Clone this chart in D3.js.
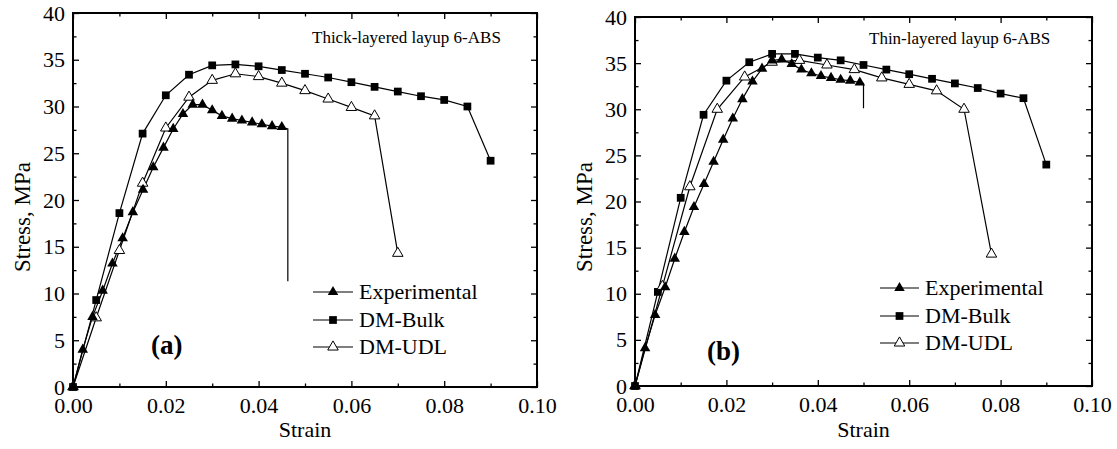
<!DOCTYPE html>
<html>
<head>
<meta charset="utf-8">
<script src="https://cdn.jsdelivr.net/npm/d3@7"></script>
<style>
  body { margin: 0; background: #fff; }
  svg text { font-family: "Liberation Serif", "Times New Roman", Times, serif; fill: #000; }
</style>
</head>
<body>
<svg id="chart" width="1117" height="449"></svg>
<script>
// ---- Thick-layered layup 6-ABS ----
const thickExpStrain = [0, 0.0021, 0.0042, 0.0064, 0.0085, 0.0107, 0.0129, 0.0151, 0.0173, 0.0195, 0.0216, 0.0237, 0.0258, 0.0279, 0.0300, 0.0321, 0.0343, 0.0364, 0.0386, 0.0407, 0.0429, 0.0450];
const thickExpStress = [0, 4.0, 7.5, 10.3, 13.2, 15.9, 18.7, 21.1, 23.5, 25.6, 27.6, 29.2, 30.2, 30.2, 29.6, 29.0, 28.7, 28.5, 28.3, 28.1, 27.9, 27.8];
const thickFailStrain = [0.0463, 0.0463];
const thickFailStress = [27.6, 11.3];
const thickBulkStrain = [0, 0.005, 0.010, 0.015, 0.020, 0.025, 0.030, 0.035, 0.040, 0.045, 0.050, 0.055, 0.060, 0.065, 0.070, 0.075, 0.080, 0.085, 0.090];
const thickBulkStress = [0, 9.3, 18.6, 27.1, 31.2, 33.4, 34.4, 34.5, 34.3, 33.9, 33.5, 33.1, 32.6, 32.1, 31.6, 31.1, 30.7, 30.0, 24.2];
const thickUdlStrain = [0, 0.005, 0.010, 0.015, 0.020, 0.025, 0.030, 0.035, 0.040, 0.045, 0.050, 0.055, 0.060, 0.065, 0.070];
const thickUdlStress = [0, 7.4, 14.6, 21.8, 27.7, 31.0, 32.8, 33.5, 33.2, 32.5, 31.7, 30.8, 29.9, 29.0, 14.3];

// ---- Thin-layered layup 6-ABS ----
const thinExpStrain = [0, 0.0022, 0.0044, 0.0066, 0.0087, 0.0108, 0.0129, 0.0151, 0.0172, 0.0193, 0.0214, 0.0235, 0.0257, 0.0278, 0.0300, 0.0321, 0.0343, 0.0364, 0.0386, 0.0407, 0.0429, 0.0450, 0.0471, 0.0492];
const thinExpStress = [0, 4.1, 7.7, 10.7, 13.8, 16.7, 19.4, 21.9, 24.3, 26.7, 29.0, 31.1, 33.0, 34.4, 35.3, 35.4, 34.9, 34.3, 33.9, 33.6, 33.4, 33.2, 33.1, 32.9];
const thinFailStrain = [0.0500, 0.0500];
const thinFailStress = [32.8, 30.1];
const thinBulkStrain = [0, 0.005, 0.010, 0.015, 0.020, 0.025, 0.030, 0.035, 0.040, 0.045, 0.050, 0.055, 0.060, 0.065, 0.070, 0.075, 0.080, 0.085, 0.090];
const thinBulkStress = [0, 10.2, 20.4, 29.4, 33.1, 35.1, 36.0, 36.0, 35.6, 35.3, 34.8, 34.3, 33.8, 33.3, 32.8, 32.3, 31.7, 31.2, 24.0];
const thinUdlStrain = [0, 0.006, 0.012, 0.018, 0.024, 0.030, 0.036, 0.042, 0.048, 0.054, 0.060, 0.066, 0.072, 0.078];
const thinUdlStress = [0, 10.8, 21.6, 30.0, 33.5, 35.1, 35.3, 34.8, 34.3, 33.4, 32.7, 32.0, 30.0, 14.3];

// ---- Axes and labels ----
const xTickValues = [0, 0.02, 0.04, 0.06, 0.08, 0.10];
const xMinorValues = [0.01, 0.03, 0.05, 0.07, 0.09];
const yTickValues = [0, 5, 10, 15, 20, 25, 30, 35, 40];
const yMinorValues = [2.5, 7.5, 12.5, 17.5, 22.5, 27.5, 32.5, 37.5];
const seriesNames = ["Experimental", "DM-Bulk", "DM-UDL"];
const panelTitles = ["Thick-layered layup 6-ABS", "Thin-layered layup 6-ABS"];
const panelTags = ["(a)", "(b)"];
const xAxisTitle = "Strain";
const yAxisTitle = "Stress, MPa";

const FONT = '"Liberation Serif", "Times New Roman", Times, serif';
const zip = (xs, ys) => xs.map((x, i) => [x, ys[i]]);

const panels = [
  {
    box: { left: 73, right: 537, top: 13, bottom: 387 },
    title: panelTitles[0], titlePos: [312, 43],
    tag: panelTags[0], tagPos: [151, 354],
    legend: { x1: 313, x2: 353, ys: [292, 320, 347] },
    yLabelPos: [30, 217],
    exp: zip(thickExpStrain, thickExpStress),
    fail: zip(thickFailStrain, thickFailStress),
    bulk: zip(thickBulkStrain, thickBulkStress),
    udl: zip(thickUdlStrain, thickUdlStress)
  },
  {
    box: { left: 635, right: 1092, top: 17, bottom: 386 },
    title: panelTitles[1], titlePos: [869, 44],
    tag: panelTags[1], tagPos: [707, 360],
    legend: { x1: 880, x2: 919, ys: [288, 316, 343] },
    yLabelPos: [592, 217],
    exp: zip(thinExpStrain, thinExpStress),
    fail: zip(thinFailStrain, thinFailStress),
    bulk: zip(thinBulkStrain, thinBulkStress),
    udl: zip(thinUdlStrain, thinUdlStress)
  }
];

const svg = d3.select("#chart");
const triangle = d3.symbol().type(d3.symbolTriangle).size(48);
const square = d3.symbol().type(d3.symbolSquare).size(60);
const fmtX = d3.format(".2f");

panels.forEach(p => {
  const b = p.box;
  const x = d3.scaleLinear().domain([0, 0.10]).range([b.left, b.right]);
  const y = d3.scaleLinear().domain([0, 40]).range([b.bottom, b.top]);
  const g = svg.append("g");

  // tick marks on all four sides, pointing inward
  const tickStyle = sel => sel.attr("font-family", FONT)
    .call(s => s.select(".domain").remove())
    .call(s => s.selectAll("line").attr("stroke", "#000").attr("stroke-width", 1.3));

  g.append("g").attr("transform", `translate(0,${b.bottom})`)
    .call(d3.axisBottom(x).tickValues(xTickValues).tickSize(-6).tickPadding(10).tickFormat(fmtX))
    .call(tickStyle)
    .call(s => s.selectAll("text").attr("font-size", 22));
  g.append("g").attr("transform", `translate(0,${b.bottom})`)
    .call(d3.axisBottom(x).tickValues(xMinorValues).tickSize(-3.5).tickFormat(""))
    .call(tickStyle);
  g.append("g").attr("transform", `translate(0,${b.top})`)
    .call(d3.axisTop(x).tickValues(xTickValues).tickSize(-6).tickFormat(""))
    .call(tickStyle);
  g.append("g").attr("transform", `translate(0,${b.top})`)
    .call(d3.axisTop(x).tickValues(xMinorValues).tickSize(-3.5).tickFormat(""))
    .call(tickStyle);

  g.append("g").attr("transform", `translate(${b.left},0)`)
    .call(d3.axisLeft(y).tickValues(yTickValues).tickSize(-6).tickPadding(8).tickFormat(d3.format("d")))
    .call(tickStyle)
    .call(s => s.selectAll("text").attr("font-size", 22));
  g.append("g").attr("transform", `translate(${b.left},0)`)
    .call(d3.axisLeft(y).tickValues(yMinorValues).tickSize(-3.5).tickFormat(""))
    .call(tickStyle);
  g.append("g").attr("transform", `translate(${b.right},0)`)
    .call(d3.axisRight(y).tickValues(yTickValues).tickSize(-6).tickFormat(""))
    .call(tickStyle);
  g.append("g").attr("transform", `translate(${b.right},0)`)
    .call(d3.axisRight(y).tickValues(yMinorValues).tickSize(-3.5).tickFormat(""))
    .call(tickStyle);

  // frame
  g.append("rect")
    .attr("x", b.left).attr("y", b.top)
    .attr("width", b.right - b.left).attr("height", b.bottom - b.top)
    .attr("fill", "none").attr("stroke", "#000").attr("stroke-width", 2);

  // axis titles
  g.append("text")
    .attr("x", (b.left + b.right) / 2).attr("y", 437)
    .attr("text-anchor", "middle").attr("font-size", 22).attr("font-family", FONT)
    .text(xAxisTitle);
  g.append("text")
    .attr("transform", `translate(${p.yLabelPos[0]},${p.yLabelPos[1]}) rotate(-90)`)
    .attr("text-anchor", "middle").attr("font-size", 23).attr("font-family", FONT)
    .text(yAxisTitle);

  // panel title and tag
  g.append("text").attr("x", p.titlePos[0]).attr("y", p.titlePos[1])
    .attr("font-size", 17).attr("font-family", FONT).text(p.title);
  g.append("text").attr("x", p.tagPos[0]).attr("y", p.tagPos[1])
    .attr("font-size", 27).attr("font-weight", "bold").attr("font-family", FONT).text(p.tag);

  const line = d3.line().x(d => x(d[0])).y(d => y(d[1]));
  const drawLine = pts => g.append("path").attr("d", line(pts))
    .attr("fill", "none").attr("stroke", "#000").attr("stroke-width", 1.2);

  // curves
  drawLine(p.bulk);
  drawLine(p.udl);
  drawLine(p.exp.concat(p.fail));

  // markers
  g.append("g").selectAll("path").data(p.bulk).join("path")
    .attr("d", square).attr("transform", d => `translate(${x(d[0])},${y(d[1])})`)
    .attr("fill", "#000");
  g.append("g").selectAll("path").data(p.udl).join("path")
    .attr("d", triangle).attr("transform", d => `translate(${x(d[0])},${y(d[1])})`)
    .attr("fill", "#fff").attr("stroke", "#000").attr("stroke-width", 1);
  g.append("g").selectAll("path").data(p.exp).join("path")
    .attr("d", triangle).attr("transform", d => `translate(${x(d[0])},${y(d[1])})`)
    .attr("fill", "#000");

  // legend
  const L = p.legend;
  const mk = [
    { sym: triangle, fill: "#000", stroke: "none" },
    { sym: square, fill: "#000", stroke: "none" },
    { sym: triangle, fill: "#fff", stroke: "#000" }
  ];
  seriesNames.forEach((name, i) => {
    const ly = L.ys[i];
    g.append("line").attr("x1", L.x1).attr("x2", L.x2).attr("y1", ly).attr("y2", ly)
      .attr("stroke", "#000").attr("stroke-width", 1.2);
    g.append("path").attr("d", mk[i].sym)
      .attr("transform", `translate(${(L.x1 + L.x2) / 2},${ly})`)
      .attr("fill", mk[i].fill).attr("stroke", mk[i].stroke).attr("stroke-width", 1);
    g.append("text").attr("x", L.x2 + 6).attr("y", ly + 7)
      .attr("font-size", 22).attr("font-family", FONT).text(name);
  });
});
</script>
</body>
</html>
